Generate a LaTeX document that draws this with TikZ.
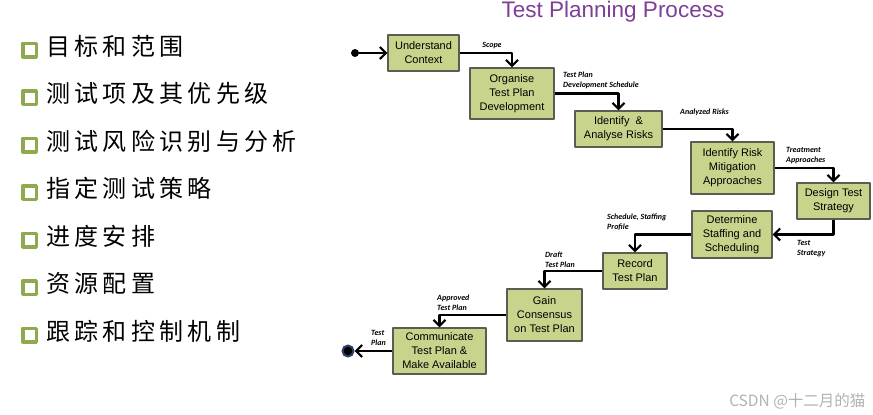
\documentclass[tikz,border=0pt]{standalone}
\usepackage{fontspec}
\setmainfont{Liberation Sans}
\newfontfamily\cjk{Noto Sans CJK SC}
\newfontfamily\lblfont{Carlito}
\usetikzlibrary{arrows.meta, positioning}
\definecolor{pboxfill}{HTML}{C8D48C}
\definecolor{pboxline}{HTML}{5C5C52}
\definecolor{pbullet}{HTML}{8FAA4E}
\definecolor{ptitle}{HTML}{7E3F98}
\definecolor{pring}{HTML}{2B3F6B}
\tikzset{
  stepbox/.style={draw=pboxline, fill=pboxfill, line width=1.1pt, align=center,
                  font=\fontsize{11}{14}\selectfont, inner sep=2pt},
  flow/.style={-{Straight Barb[length=6pt, width=12pt, line width=2.2pt]},
               line width=2.4pt, black},
  flowlbl/.style={font=\lblfont\bfseries\itshape\fontsize{8}{10}\selectfont,
                  align=left, inner sep=0pt},
  bulletsq/.style={draw=pbullet, line width=3.5pt, minimum size=13.5pt, inner sep=0pt},
  itemtxt/.style={font=\cjk\addfontfeature{LetterSpace=18}\fontsize{24}{24}\selectfont,
                  anchor=west, inner sep=0pt},
}

\begin{document}
\begin{tikzpicture}[x=1pt, y=-1pt, line join=round]
  \useasboundingbox[fill=white] (0,0) rectangle (873,415);

  %% ── Topic list (left) ──
  \foreach \txt [count=\i] in {目标和范围, 测试项及其优先级, 测试风险识别与分析,
                              指定测试策略, 进度安排, 资源配置, 跟踪和控制机制} {
    \node[bulletsq] (b\i) at (29.5, {2.5+47.5*\i}) {};
    \node[itemtxt] (t\i) at (46, {-1.5+47.5*\i}) {\txt};
  }

  %% ── Title ──
  \node[ptitle, font=\fontsize{22.5}{22.5}\selectfont] (title) at (613,12) {Test Planning Process};

  %% ── Process steps ──
  \node[stepbox, minimum width=71pt, minimum height=36pt] (uc)  at (423.5,53)  {Understand\\Context};
  \node[stepbox, minimum width=84pt, minimum height=51pt] (org) at (512,93.5)  {Organise\\Test Plan\\Development};
  \node[stepbox, minimum width=87pt, minimum height=36pt] (iar) at (618.5,129) {Identify \ \&\\Analyse Risks};
  \node[stepbox, minimum width=83pt, minimum height=52pt] (irm) at (732.5,168) {Identify Risk\\Mitigation\\Approaches};
  \node[stepbox, minimum width=73pt, minimum height=36pt] (dts) at (833.5,201) {Design Test\\Strategy};
  \node[stepbox, minimum width=80pt, minimum height=47pt] (dss) at (732,234.5) {Determine\\Staffing and\\Scheduling};
  \node[stepbox, minimum width=64pt, minimum height=36pt] (rtp) at (635,271)   {Record\\Test Plan};
  \node[stepbox, minimum width=75pt, minimum height=52pt] (gc)  at (544.5,315) {Gain\\Consensus\\on Test Plan};
  \node[stepbox, minimum width=93pt, minimum height=46pt] (ctp) at (439.5,351) {Communicate\\Test Plan \&\\Make Available};

  % start / end markers
  \node[circle, fill=black, minimum size=8pt, inner sep=0pt] (start) at (355,53) {};
  \node[circle, fill=black, draw=pring, line width=2pt, minimum size=11pt, inner sep=0pt] (stop) at (348,351) {};

  %% ── Flow ──
  \draw[flow] (start) -- (uc);
  \draw[flow] (uc.east)  -| (org.north);
  \draw[flow] (org.east) -| (iar.north);
  \draw[flow] (iar.east) -| (irm.north);
  \draw[flow] (irm.east) -| (dts.north);
  \draw[flow] (dts.south) |- (dss.east);
  \draw[flow] (dss.west) -| (rtp.north);
  \draw[flow] (rtp.west) -| (gc.north);
  \draw[flow] (gc.west)  -| (ctp.north);
  \draw[flow] (ctp.west) -- (stop);

  % flow labels
  \node[flowlbl] (l1) at (492,46) {Scope};
  \node[flowlbl, anchor=west] (l2) at (563,80)  {Test Plan\\Development Schedule};
  \node[flowlbl, anchor=west] (l3) at (680,112) {Analyzed Risks};
  \node[flowlbl, anchor=west] (l4) at (786,156) {Treatment\\Approaches};
  \node[flowlbl, anchor=west] (l5) at (797,249) {Test\\Strategy};
  \node[flowlbl, anchor=west] (l6) at (607,222) {Schedule, Staffing\\Profile};
  \node[flowlbl, anchor=west] (l7) at (545,260) {Draft\\Test Plan};
  \node[flowlbl, anchor=west] (l8) at (437,303) {Approved\\Test Plan};
  \node[flowlbl, anchor=west] (l9) at (371,338) {Test\\Plan};

  % watermark
  \node[gray!60, font=\cjk\fontsize{15.5}{15.5}\selectfont, anchor=east] (mark) at (869,401) {CSDN @十二月的猫};
\end{tikzpicture}
\end{document}
